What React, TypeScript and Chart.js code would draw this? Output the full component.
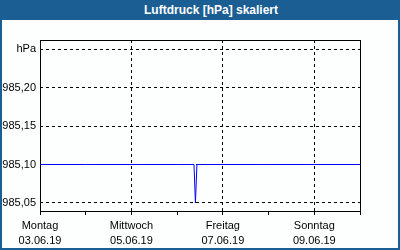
import React, { useEffect, useRef } from "react";
import { Chart, registerables } from "chart.js";

Chart.register(...registerables);

const chartTitle = "Luftdruck [hPa] skaliert";
const yUnit = "hPa";
const yTicks = [985.05, 985.1, 985.15, 985.2, 985.25];
const yMin = 985.03961;
const yMax = 985.26169;
const xDayNames = ["Montag", "Mittwoch", "Freitag", "Sonntag"];
const xDates = ["03.06.19", "05.06.19", "07.06.19", "09.06.19"];
const xMaxHours = 168;
const hours = [0, 24, 48, 72, 80.85, 81.6, 82.4, 96, 120, 144, 168];
const pressure = [985.1, 985.1, 985.1, 985.1, 985.1, 985.05, 985.1, 985.1, 985.1, 985.1, 985.1];

const BLUE = "#1b5e93";

const framePlugin = {
  id: "frame",
  beforeDatasetsDraw(chart: any) {
    const { ctx, chartArea } = chart;
    ctx.save();
    ctx.strokeStyle = "#000";
    ctx.lineWidth = 1;
    ctx.setLineDash([]);
    ctx.strokeRect(
      chartArea.left + 0.5,
      chartArea.top + 0.5,
      chartArea.right - chartArea.left,
      chartArea.bottom - chartArea.top
    );
    ctx.restore();
  },
};

export default function App() {
  const ref = useRef<HTMLCanvasElement | null>(null);

  useEffect(() => {
    if (!ref.current) return;
    const font = { family: "'Liberation Sans', Arial, sans-serif", size: 11, lineHeight: 15 / 11 };
    const chart = new Chart(ref.current, {
      type: "line",
      data: {
        datasets: [
          {
            data: hours.map((h, i) => ({ x: h, y: pressure[i] })),
            borderColor: "#0000ff",
            borderWidth: 1,
            pointRadius: 0,
            tension: 0,
            fill: false,
          },
        ],
      },
      options: {
        animation: false,
        responsive: false,
        devicePixelRatio: 1,
        layout: { padding: { top: 40, right: 40, left: 0, bottom: 0 } },
        plugins: {
          legend: { display: false },
          title: { display: false },
          tooltip: { enabled: false },
        },
        scales: {
          x: {
            type: "linear",
            min: 0,
            max: xMaxHours,
            afterFit(s: any) {
              s.height = 39;
            },
            ticks: {
              stepSize: 24,
              autoSkip: false,
              maxRotation: 0,
              padding: 3,
              color: "#000",
              font,
              callback: (v: any) => {
                const d = Math.round(Number(v) / 24);
                if (d % 2 === 0 && d / 2 < xDayNames.length) {
                  return [xDayNames[d / 2], xDates[d / 2]];
                }
                return "";
              },
            },
            grid: {
              drawTicks: true,
              tickLength: 4,
              tickColor: "#000",
              color: (c: any) => {
                const v = c.tick ? c.tick.value : 0;
                const d = Math.round(v / 24);
                return d > 0 && d < 7 && d % 2 === 0 ? "#000" : "rgba(0,0,0,0)";
              },
            },
            border: { display: false, dash: [3, 3] },
          },
          y: {
            type: "linear",
            min: yMin,
            max: yMax,
            afterFit(s: any) {
              s.width = 40;
            },
            afterBuildTicks(s: any) {
              s.ticks = yTicks.map((v) => ({ value: v }));
            },
            ticks: {
              padding: 4,
              color: "#000",
              font,
              callback: (v: any) => {
                const n = Number(v);
                if (Math.abs(n - yTicks[yTicks.length - 1]) < 1e-6) return yUnit;
                return n.toFixed(2).replace(".", ",");
              },
            },
            grid: {
              drawTicks: false,
              color: "#000",
            },
            border: { display: false, dash: [3, 3] },
          },
        },
      },
      plugins: [framePlugin],
    } as any);
    return () => chart.destroy();
  }, []);

  return (
    <div
      style={{
        position: "absolute",
        left: 0,
        top: 0,
        width: 400,
        height: 250,
        background: "#fdfffe",
        overflow: "hidden",
      }}
    >
      <canvas
        ref={ref}
        width={400}
        height={250}
        style={{ position: "absolute", left: 0, top: 0, width: 400, height: 250 }}
      />
      <div
        style={{
          position: "absolute",
          left: 0,
          top: 0,
          width: 400,
          height: 250,
          boxSizing: "border-box",
          borderLeft: `2px solid ${BLUE}`,
          borderRight: `2px solid ${BLUE}`,
          borderBottom: `2px solid ${BLUE}`,
          pointerEvents: "none",
        }}
      />
      <div
        style={{
          position: "absolute",
          left: 0,
          top: 0,
          width: 400,
          height: 20,
          background: BLUE,
          color: "#fff",
          fontFamily: "'Liberation Sans', Arial, sans-serif",
          fontWeight: "bold",
          fontSize: 12,
          lineHeight: "20px",
          textAlign: "center",
          paddingLeft: 22,
          boxSizing: "border-box",
        }}
      >
        {chartTitle}
      </div>
    </div>
  );
}
